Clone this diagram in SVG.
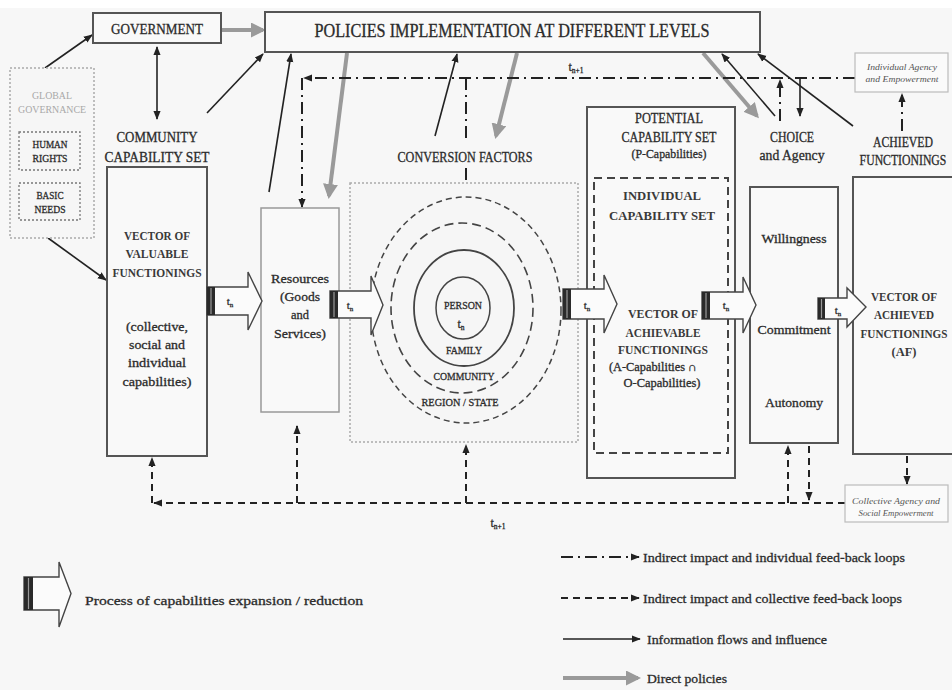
<svg xmlns="http://www.w3.org/2000/svg" width="952" height="690" viewBox="0 0 952 690">
  <defs>
    <style>
      .txt { font-family: "Liberation Serif", "DejaVu Serif", serif; fill: #2b2b2b; text-anchor: middle; stroke: #2b2b2b; stroke-width: 0.3; }
      .hd { font-size: 15px; }
      .vec { font-size: 13.5px; font-weight: bold; fill: #3a3a3a; stroke: none; }
      .sm { font-size: 13px; }
      .gray { fill: #a8a8a8; stroke: none; }
      .it { font-style: italic; font-size: 9px; fill: #555; stroke: none; }
      .lg { text-anchor: start; font-size: 13.5px; }
      .box { fill: #f9f9f9; stroke: #555; stroke-width: 2; }
      .lbox { fill: #f9f9f9; stroke: #999; stroke-width: 1.5; }
      .dotbox { fill: #f6f6f6; stroke: #aaa; stroke-width: 1.5; stroke-dasharray: 2 2; }
      .dotsm { fill: none; stroke: #777; stroke-width: 1.3; stroke-dasharray: 2 2; }
      .solid { fill: none; stroke: #222; stroke-width: 1.6; marker-end: url(#ah); }
      .pol { fill: none; stroke: #9a9a9a; stroke-width: 4; marker-end: url(#gh); }
      .dd { fill: none; stroke: #222; stroke-width: 2; stroke-dasharray: 12 5 2 5; }
      .da { fill: none; stroke: #222; stroke-width: 2; stroke-dasharray: 7 5; }
      .barrow { fill: #fbfbfb; stroke: #444; stroke-width: 1.4; }
      .bar { fill: #2a2a2a; }
      .barl { stroke: #999; stroke-width: 1.2; }
    </style>
    <marker id="ah" viewBox="0 0 10 10" refX="9" refY="5" markerWidth="9" markerHeight="9" markerUnits="userSpaceOnUse" orient="auto-start-reverse">
      <path d="M0,1 L10,5 L0,9 z" fill="#222"/>
    </marker>
    <marker id="gh" viewBox="0 0 10 10" refX="8" refY="5" markerWidth="15" markerHeight="15" markerUnits="userSpaceOnUse" orient="auto">
      <path d="M0,0 L10,5 L0,10 z" fill="#9a9a9a"/>
    </marker>
  </defs>

  <!-- canvas -->
  <rect x="0" y="0" width="952" height="690" fill="#f7f7f7"/>
  <rect x="0" y="0" width="952" height="8" fill="#ffffff"/>

  <!-- connectors -->
  <g id="connectors">
    <!-- direct policies -->
    <line class="pol" x1="221" y1="30" x2="263" y2="30"/>
    <line class="pol" x1="347" y1="53" x2="329" y2="196"/>
    <line class="pol" x1="517" y1="53" x2="496" y2="136"/>
    <line class="pol" x1="703" y1="53" x2="757" y2="116"/>

    <!-- information flows -->
    <line class="solid" x1="45" y1="68" x2="92" y2="35"/>
    <line class="solid" x1="48" y1="238" x2="106" y2="280"/>
    <line class="solid" x1="157" y1="47" x2="157" y2="119" marker-start="url(#ah)"/>
    <line class="solid" x1="207" y1="113" x2="263" y2="54"/>
    <line class="solid" x1="269" y1="192" x2="291" y2="54"/>
    <line class="solid" x1="435" y1="136" x2="457" y2="54"/>
    <line class="solid" x1="775" y1="116" x2="722" y2="54"/>
    <line class="solid" x1="853" y1="126" x2="758" y2="54"/>
    <line class="solid" x1="800" y1="79" x2="800" y2="116"/>

    <!-- individual feed-back loops -->
    <line class="dd" x1="855" y1="78" x2="304" y2="78" marker-end="url(#ah)"/>
    <line class="dd" x1="302" y1="78" x2="302" y2="207" marker-end="url(#ah)"/>
    <line class="dd" x1="466" y1="78" x2="466" y2="140"/>
    <line class="dd" x1="466" y1="168" x2="466" y2="207" marker-end="url(#ah)"/>
    <line class="dd" x1="780" y1="121" x2="780" y2="80" marker-end="url(#ah)"/>
    <line class="dd" x1="902" y1="131" x2="902" y2="94" marker-end="url(#ah)"/>

    <!-- collective feed-back loops -->
    <line class="da" x1="845" y1="503" x2="154" y2="503" marker-end="url(#ah)"/>
    <line class="da" x1="152" y1="503" x2="152" y2="458" marker-end="url(#ah)"/>
    <line class="da" x1="297" y1="503" x2="297" y2="426" marker-end="url(#ah)"/>
    <line class="da" x1="466" y1="503" x2="466" y2="445" marker-end="url(#ah)"/>
    <line class="da" x1="788" y1="503" x2="788" y2="446" marker-end="url(#ah)"/>
    <line class="da" x1="809" y1="446" x2="809" y2="500" marker-end="url(#ah)"/>
    <line class="da" x1="907" y1="456" x2="907" y2="484" marker-end="url(#ah)"/>
  </g>

  <!-- time labels -->
  <text class="txt" x="576" y="71" font-size="12">t<tspan font-size="7.5" dy="2">n+1</tspan></text>
  <text class="txt" x="498" y="527" font-size="12">t<tspan font-size="7.5" dy="2">n+1</tspan></text>

  <g id="government">
    <rect class="box" x="93" y="13" width="128" height="30"/>
    <text class="txt hd" x="157" y="34" textLength="92" lengthAdjust="spacingAndGlyphs">GOVERNMENT</text>
  </g>

  <g id="policies">
    <rect class="box" x="265" y="12" width="495" height="40"/>
    <text class="txt" x="512" y="37" font-size="18" textLength="395" lengthAdjust="spacingAndGlyphs">POLICIES IMPLEMENTATION AT DIFFERENT LEVELS</text>
  </g>

  <g id="global-governance">
    <rect class="dotbox" x="10" y="68" width="84" height="170"/>
    <text class="txt gray" x="52" y="99" font-size="11" textLength="40" lengthAdjust="spacingAndGlyphs">GLOBAL</text>
    <text class="txt gray" x="52" y="113" font-size="11" textLength="68" lengthAdjust="spacingAndGlyphs">GOVERNANCE</text>
    <rect class="dotsm" x="19" y="132" width="61" height="38"/>
    <text class="txt" x="50" y="148" font-size="10.5" textLength="35" lengthAdjust="spacingAndGlyphs">HUMAN</text>
    <text class="txt" x="50" y="162" font-size="10.5" textLength="35" lengthAdjust="spacingAndGlyphs">RIGHTS</text>
    <rect class="dotsm" x="19" y="183" width="61" height="37"/>
    <text class="txt" x="50" y="199" font-size="10.5" textLength="27" lengthAdjust="spacingAndGlyphs">BASIC</text>
    <text class="txt" x="50" y="213" font-size="10.5" textLength="31" lengthAdjust="spacingAndGlyphs">NEEDS</text>
  </g>

  <g id="community-capability-set">
    <text class="txt hd" x="157" y="142" textLength="81" lengthAdjust="spacingAndGlyphs">COMMUNITY</text>
    <text class="txt hd" x="157" y="162" textLength="105" lengthAdjust="spacingAndGlyphs">CAPABILITY SET</text>
    <rect class="box" x="107" y="167" width="100" height="289"/>
    <text class="txt vec" x="157" y="240" textLength="66" lengthAdjust="spacingAndGlyphs">VECTOR OF</text>
    <text class="txt vec" x="157" y="258" textLength="63" lengthAdjust="spacingAndGlyphs">VALUABLE</text>
    <text class="txt vec" x="157" y="277" textLength="89" lengthAdjust="spacingAndGlyphs">FUNCTIONINGS</text>
    <text class="txt sm" x="157" y="331" textLength="62" lengthAdjust="spacingAndGlyphs">(collective,</text>
    <text class="txt sm" x="157" y="349" textLength="56" lengthAdjust="spacingAndGlyphs">social and</text>
    <text class="txt sm" x="157" y="367" textLength="58" lengthAdjust="spacingAndGlyphs">individual</text>
    <text class="txt sm" x="157" y="386" textLength="69" lengthAdjust="spacingAndGlyphs">capabilities)</text>
  </g>

  <g id="resources">
    <rect class="lbox" x="261" y="208" width="78" height="204"/>
    <text class="txt sm" x="300" y="283" textLength="58" lengthAdjust="spacingAndGlyphs">Resources</text>
    <text class="txt sm" x="300" y="301" textLength="40" lengthAdjust="spacingAndGlyphs">(Goods</text>
    <text class="txt sm" x="300" y="319" textLength="18" lengthAdjust="spacingAndGlyphs">and</text>
    <text class="txt sm" x="300" y="338" textLength="52" lengthAdjust="spacingAndGlyphs">Services)</text>
  </g>

  <g id="conversion-factors">
    <text class="txt" x="465" y="162" font-size="14" textLength="135" lengthAdjust="spacingAndGlyphs">CONVERSION FACTORS</text>
    <rect class="dotbox" x="350" y="183" width="228" height="259"/>
    <ellipse cx="466" cy="310" rx="95" ry="113" fill="none" stroke="#444" stroke-width="1.5" stroke-dasharray="6 4"/>
    <ellipse cx="462" cy="308" rx="71" ry="85" fill="none" stroke="#444" stroke-width="1.6" stroke-dasharray="9 5"/>
    <ellipse cx="464" cy="308" rx="50" ry="58" fill="none" stroke="#444" stroke-width="1.8"/>
    <ellipse cx="463" cy="308" rx="27" ry="31" fill="none" stroke="#444" stroke-width="1.5"/>
    <text class="txt" x="463" y="309" font-size="11" textLength="38" lengthAdjust="spacingAndGlyphs">PERSON</text>
    <text class="txt" x="461" y="328" font-size="12">t<tspan font-size="7.5" dy="2">n</tspan></text>
    <text class="txt" x="464" y="354" font-size="11" textLength="36" lengthAdjust="spacingAndGlyphs">FAMILY</text>
    <text class="txt" x="464" y="380" font-size="11" textLength="61" lengthAdjust="spacingAndGlyphs">COMMUNITY</text>
    <text class="txt" x="460" y="406" font-size="11" textLength="77" lengthAdjust="spacingAndGlyphs">REGION / STATE</text>
  </g>

  <g id="potential-capability-set">
    <rect class="box" x="587" y="107" width="148" height="371"/>
    <text class="txt" x="669" y="123" font-size="14" textLength="68" lengthAdjust="spacingAndGlyphs">POTENTIAL</text>
    <text class="txt" x="669" y="142" font-size="14" textLength="95" lengthAdjust="spacingAndGlyphs">CAPABILITY SET</text>
    <text class="txt" x="669" y="158" font-size="12.5" textLength="75" lengthAdjust="spacingAndGlyphs">(P-Capabilities)</text>
  </g>

  <g id="individual-capability-set">
    <rect x="594" y="178" width="134" height="275" fill="none" stroke="#444" stroke-width="2" stroke-dasharray="8 5"/>
    <text class="txt vec" x="662" y="200" font-size="15" textLength="78" lengthAdjust="spacingAndGlyphs">INDIVIDUAL</text>
    <text class="txt vec" x="662" y="220" font-size="15" textLength="106" lengthAdjust="spacingAndGlyphs">CAPABILITY SET</text>
    <text class="txt vec" x="663" y="318" textLength="70" lengthAdjust="spacingAndGlyphs">VECTOR OF</text>
    <text class="txt vec" x="663" y="337" textLength="75" lengthAdjust="spacingAndGlyphs">ACHIEVABLE</text>
    <text class="txt vec" x="663" y="354" textLength="90" lengthAdjust="spacingAndGlyphs">FUNCTIONINGS</text>
    <text class="txt" x="653" y="371" font-size="12" textLength="88" lengthAdjust="spacingAndGlyphs">(A-Capabilities ∩</text>
    <text class="txt" x="662" y="387" font-size="12" textLength="77" lengthAdjust="spacingAndGlyphs">O-Capabilities)</text>
  </g>

  <g id="choice-agency">
    <text class="txt" x="792" y="142" font-size="14" textLength="44" lengthAdjust="spacingAndGlyphs">CHOICE</text>
    <text class="txt" x="792" y="160" font-size="14" textLength="65" lengthAdjust="spacingAndGlyphs">and Agency</text>
    <rect class="box" x="750" y="187" width="88" height="256"/>
    <text class="txt sm" x="794" y="243" textLength="65" lengthAdjust="spacingAndGlyphs">Willingness</text>
    <text class="txt sm" x="794" y="334" textLength="73" lengthAdjust="spacingAndGlyphs">Commitment</text>
    <text class="txt sm" x="794" y="407" textLength="58" lengthAdjust="spacingAndGlyphs">Autonomy</text>
  </g>

  <g id="achieved-functionings">
    <text class="txt" x="903" y="147" font-size="14" textLength="60" lengthAdjust="spacingAndGlyphs">ACHIEVED</text>
    <!-- long words narrowed with a horizontal scale so they stay inside the canvas -->
    <text class="txt" transform="translate(903,165) scale(0.84,1)" x="0" y="0" font-size="14">FUNCTIONINGS</text>
    <rect class="box" x="853" y="177" width="110" height="277"/>
    <text class="txt vec" x="904" y="301" textLength="66" lengthAdjust="spacingAndGlyphs">VECTOR OF</text>
    <text class="txt vec" x="904" y="319" textLength="60" lengthAdjust="spacingAndGlyphs">ACHIEVED</text>
    <text class="txt vec" transform="translate(904,338) scale(0.83,1)" x="0" y="0" font-size="13">FUNCTIONINGS</text>
    <text class="txt vec" x="904" y="356" textLength="25" lengthAdjust="spacingAndGlyphs">(AF)</text>
  </g>

  <g id="individual-agency">
    <rect x="855" y="53" width="93" height="39" fill="#fafafa" stroke="#bbb" stroke-width="1.2"/>
    <text class="txt it" x="902" y="70" textLength="70" lengthAdjust="spacingAndGlyphs">Individual Agency</text>
    <text class="txt it" x="902" y="82" textLength="73" lengthAdjust="spacingAndGlyphs">and Empowerment</text>
  </g>

  <g id="collective-agency">
    <rect x="845" y="485" width="103" height="37" fill="#fafafa" stroke="#bbb" stroke-width="1.2"/>
    <text class="txt it" x="896" y="504" textLength="88" lengthAdjust="spacingAndGlyphs">Collective Agency and</text>
    <text class="txt it" x="896" y="516" textLength="75" lengthAdjust="spacingAndGlyphs">Social Empowerment</text>
  </g>

  <!-- expansion / reduction arrows -->
  <g id="process-arrows">
    <g id="arrow-1">
      <path class="barrow" d="M207,287 H248 V272 L262,301 L248,330 V315 H207 Z"/>
      <rect class="bar" x="207" y="287" width="8" height="28"/>
      <line class="barl" x1="211" y1="288" x2="211" y2="314"/>
      <text class="txt" x="230" y="305" font-size="11">t<tspan font-size="7" dy="2">n</tspan></text>
    </g>
    <g id="arrow-2">
      <path class="barrow" d="M330,291 H371 V276 L383,305 L371,335 V318 H330 Z"/>
      <rect class="bar" x="330" y="291" width="8" height="27"/>
      <line class="barl" x1="334" y1="292" x2="334" y2="317"/>
      <text class="txt" x="350" y="309" font-size="11">t<tspan font-size="7" dy="2">n</tspan></text>
    </g>
    <g id="arrow-3">
      <path class="barrow" d="M563,289 H604 V275 L617,304 L604,333 V319 H563 Z"/>
      <rect class="bar" x="563" y="289" width="8" height="30"/>
      <line class="barl" x1="567" y1="290" x2="567" y2="318"/>
      <text class="txt" x="587" y="309" font-size="11">t<tspan font-size="7" dy="2">n</tspan></text>
    </g>
    <g id="arrow-4">
      <path class="barrow" d="M702,292 H743 V277 L756,305 L743,333 V319 H702 Z"/>
      <rect class="bar" x="702" y="292" width="8" height="27"/>
      <line class="barl" x1="706" y1="293" x2="706" y2="318"/>
      <text class="txt" x="726" y="309" font-size="11">t<tspan font-size="7" dy="2">n</tspan></text>
    </g>
    <g id="arrow-5">
      <path class="barrow" d="M818,298 H847 V288 L866,307 L847,327 V319 H818 Z"/>
      <rect class="bar" x="818" y="298" width="7" height="21"/>
      <line class="barl" x1="821.5" y1="299" x2="821.5" y2="318"/>
      <text class="txt" x="838" y="314" font-size="11">t<tspan font-size="7" dy="2">n</tspan></text>
    </g>
  </g>

  <!-- legend -->
  <g id="legend">
    <path class="barrow" d="M24,577 H59 V562 L71,593.5 L59,627 V610 H24 Z"/>
    <rect class="bar" x="24" y="577" width="9" height="33"/>
    <line class="barl" x1="28.5" y1="578" x2="28.5" y2="609"/>
    <text class="txt lg" x="85" y="605" font-size="16.5" textLength="278" lengthAdjust="spacingAndGlyphs">Process of capabilities expansion / reduction</text>

    <line class="dd" x1="561" y1="557" x2="639" y2="557" marker-end="url(#ah)"/>
    <text class="txt lg" x="643" y="562" textLength="262" lengthAdjust="spacingAndGlyphs">Indirect impact and individual feed-back loops</text>
    <line class="da" x1="561" y1="598" x2="639" y2="598" marker-end="url(#ah)"/>
    <text class="txt lg" x="643" y="603" textLength="259" lengthAdjust="spacingAndGlyphs">Indirect impact and collective feed-back loops</text>
    <line class="solid" x1="563" y1="639" x2="640" y2="639"/>
    <text class="txt lg" x="647" y="644" textLength="180" lengthAdjust="spacingAndGlyphs">Information flows and influence</text>
    <line class="pol" x1="563" y1="678" x2="638" y2="678"/>
    <text class="txt lg" x="647" y="683" textLength="80" lengthAdjust="spacingAndGlyphs">Direct policies</text>
  </g>
</svg>
